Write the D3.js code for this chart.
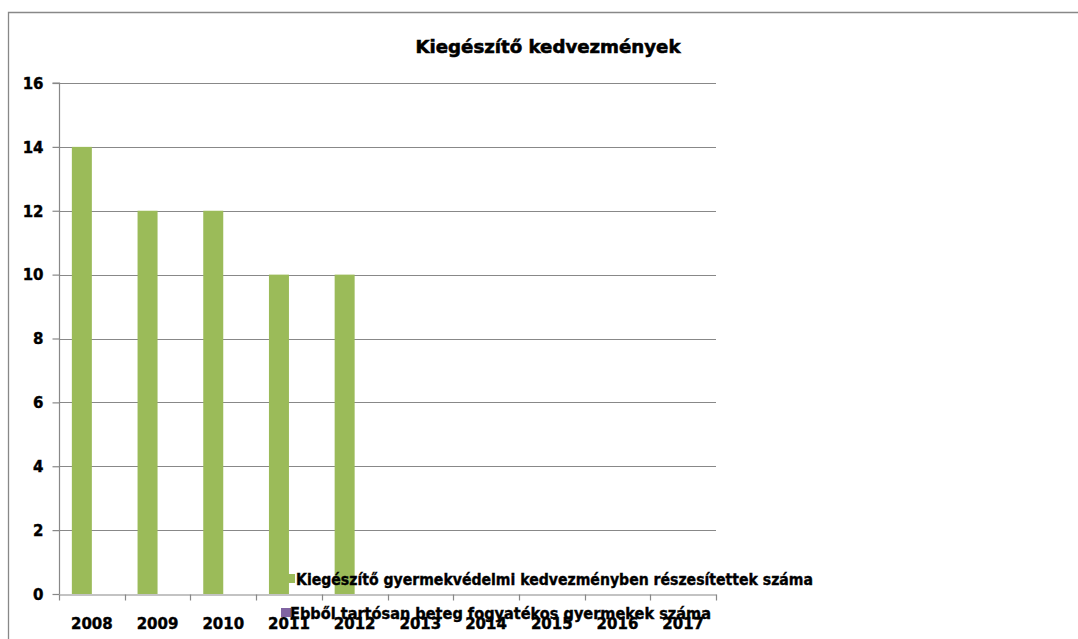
<!DOCTYPE html>
<html><head><meta charset="utf-8">
<script src="https://cdn.jsdelivr.net/npm/d3@7"></script>
<style>body{margin:0;background:#fff}svg{display:block}</style>
</head><body>
<script>
const title = "Kiegészítő kedvezmények";
const categories = ["2008","2009","2010","2011","2012","2013","2014","2015","2016","2017"];
const seriesNames = ["Kiegészítő gyermekvédelmi kedvezményben részesítettek száma","Ebből tartósan beteg fogyatékos gyermekek száma"];
const series1 = [14,12,12,10,10,null,null,null,null,null];
const series2 = [null,null,null,null,null,null,null,null,null,null];
const yTicks = [0,2,4,6,8,10,12,14,16];
const colors = ["#9BBB59","#8064A2"];

const W=1078,H=639;
const svg=d3.select("body").append("svg").attr("width",W).attr("height",H);
const font="DejaVu Sans";
// frame
svg.append("path").attr("d",`M8.5,${H+2}V12.5H${W+2}`).attr("fill","none").attr("stroke","#888").attr("stroke-width",1.3);

const x0=59,x1=716,yTop=83,yBot=594;
const x=d3.scaleBand().domain(categories).range([x0,x1]).paddingInner(0).paddingOuter(0);
const y=d3.scaleLinear().domain([0,16]).range([yBot,yTop]);
const sub=d3.scaleBand().domain([0,1]).range([0,40]);

// gridlines
svg.append("g").selectAll("line").data(yTicks.filter(d=>d>0)).join("line")
 .attr("x1",x0).attr("x2",x1).attr("y1",d=>Math.round(y(d))+0.5).attr("y2",d=>Math.round(y(d))+0.5)
 .attr("stroke","#888").attr("stroke-width",1.2);

// y axis
const ya=svg.append("g").attr("transform",`translate(${x0+0.5},0)`)
 .call(d3.axisLeft(y).tickValues(yTicks).tickSize(7).tickPadding(9));
ya.select(".domain").attr("stroke","#888").attr("stroke-width",1.2).attr("d",`M-7,${yTop}H0V${yBot}`);
ya.selectAll(".tick line").attr("stroke","#888").attr("stroke-width",1.2);
ya.selectAll("text").attr("font-family",font).attr("font-weight","bold").attr("font-size","15px").attr("fill","#000")
 .attr("stroke","#000").attr("stroke-width",0.4).attr("dy","0.35em");

// bars
const bw=x.bandwidth();
const gb=svg.append("g");
[series1,series2].forEach((s,si)=>{
 gb.selectAll(".b"+si).data(categories.map((c,i)=>({c,v:s[i]})).filter(d=>d.v!=null)).join("rect")
  .attr("x",d=>x(d.c)+(bw-40)/2+sub(si)).attr("width",sub.bandwidth())
  .attr("y",d=>y(d.v)).attr("height",d=>y(0)-y(d.v)).attr("fill",colors[si]);
});

// x axis
const xa=svg.append("g").attr("transform",`translate(0,${yBot+0.5})`)
 .call(d3.axisBottom(x).tickSize(0).tickPadding(24));
xa.select(".domain").attr("stroke","#888").attr("stroke-width",1.2);
xa.selectAll("text").attr("font-family",font).attr("font-weight","bold").attr("font-size","15px").attr("fill","#000")
 .attr("stroke","#000").attr("stroke-width",0.4);
const bounds=categories.map(c=>x(c)).concat([x1]);
xa.append("g").selectAll("line").data(bounds).join("line")
 .attr("x1",d=>Math.round(d)+0.5).attr("x2",d=>Math.round(d)+0.5).attr("y1",0).attr("y2",6)
 .attr("stroke","#888").attr("stroke-width",1.2);

// title
svg.append("text").attr("x",548).attr("y",53).attr("text-anchor","middle")
 .attr("font-family",font).attr("font-weight","bold").attr("font-size","18px")
 .attr("stroke","#000").attr("stroke-width",0.6)
 .attr("textLength",265).attr("lengthAdjust","spacingAndGlyphs").text(title);

// legend
const leg=[{sx:285,sy:574,tx:296,ty:585,len:517},{sx:281,sy:608,tx:290,ty:619,len:421}];
leg.forEach((l,i)=>{
 svg.append("rect").attr("x",l.sx).attr("y",l.sy).attr("width",10).attr("height",9).attr("fill",colors[i]);
 svg.append("text").attr("x",l.tx).attr("y",l.ty).attr("font-family",font).attr("font-weight","bold")
  .attr("stroke","#000").attr("stroke-width",0.4)
  .attr("font-size","15px").attr("textLength",l.len).attr("lengthAdjust","spacingAndGlyphs").text(seriesNames[i]);
});
</script>
</body></html>
